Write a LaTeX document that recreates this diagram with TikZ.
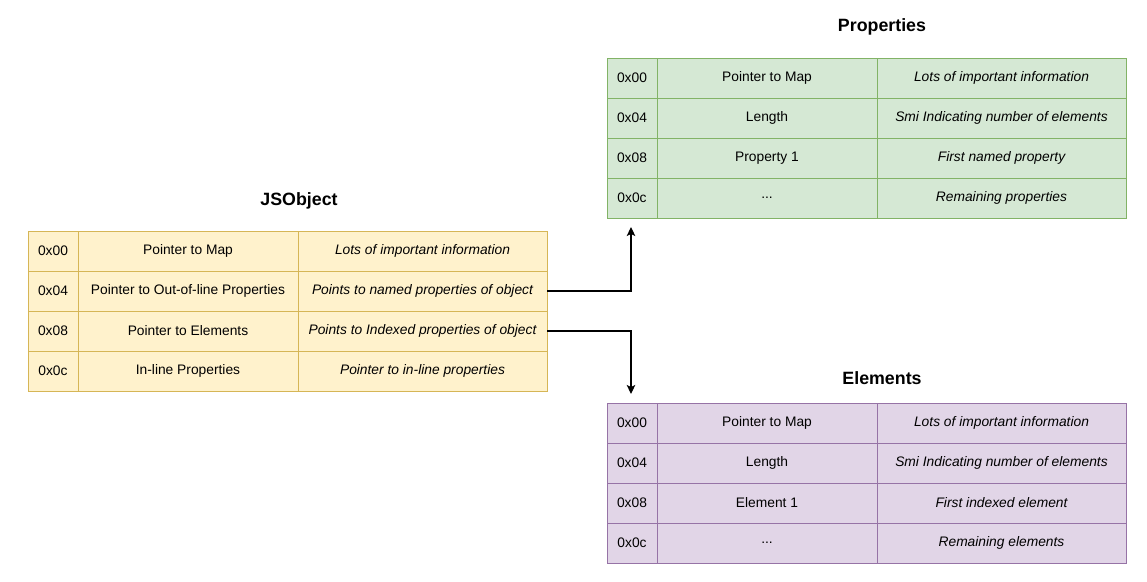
\documentclass[tikz,border=0pt]{standalone}
\usepackage{fontspec}
\setmainfont{Liberation Sans}
\usetikzlibrary{arrows.meta}
\definecolor{yfill}{HTML}{FFF2CC}
\definecolor{yline}{HTML}{D6B656}
\definecolor{gfill}{HTML}{D5E8D4}
\definecolor{gline}{HTML}{82B366}
\definecolor{pfill}{HTML}{E1D5E7}
\definecolor{pline}{HTML}{9673A6}
\newcommand\mythreedots{{.}{.}{.}}
\begin{document}
\begin{tikzpicture}[x=1pt,y=-1pt,
  cell/.style={line width=0.95pt, inner sep=0pt, minimum height=40pt,
    font=\fontsize{13.8}{16}\selectfont},
  ital/.style={font=\fontsize{13.8}{16}\selectfont\itshape},
  yel/.style={cell, draw=yline, fill=yfill},
  grn/.style={cell, draw=gline, fill=gfill},
  pur/.style={cell, draw=pline, fill=pfill},
  ttl/.style={font=\fontsize{17.8}{20}\selectfont\bfseries},
  arr/.style={line width=1.15pt, -{Stealth[length=9pt,width=8.5pt,inset=2pt]}}
]
\useasboundingbox (0,0) rectangle (1147,581);

% JSObject
\node[ttl] (tj) at (299,201) {JSObject};
\foreach \i/\a/\b/\c in {1/0x00/Pointer to Map/Lots of important information,
  2/0x04/Pointer to Out-of-line Properties/Points to named properties of object,
  3/0x08/Pointer to Elements/Points to Indexed properties of object,
  4/0x0c/In-line Properties/Pointer to in-line properties}{
  \pgfmathsetmacro\yy{231+40*(\i-1)+20}
  \node[yel, minimum width=50pt] (jo\i a) at (53,\yy) {\a};
  \node[yel, minimum width=220pt] (jo\i b) at (188,\yy) {\b};
  \node[yel, ital, minimum width=249pt] (jo\i c) at (422.5,\yy) {\c};
}

% Properties
\node[ttl] (tp) at (882,27) {Properties};
\foreach \i/\a/\b/\c in {1/0x00/Pointer to Map/Lots of important information,
  2/0x04/Length/Smi Indicating number of elements,
  3/0x08/Property 1/First named property,
  4/0x0c/\mythreedots/Remaining properties}{
  \pgfmathsetmacro\yy{58+40*(\i-1)+20}
  \node[grn, minimum width=50pt] (pr\i a) at (632,\yy) {\a};
  \node[grn, minimum width=220pt] (pr\i b) at (767,\yy) {\b};
  \node[grn, ital, minimum width=249pt] (pr\i c) at (1001.5,\yy) {\c};
}

% Elements
\node[ttl] (te) at (882,378) {Elements};
\foreach \i/\a/\b/\c in {1/0x00/Pointer to Map/Lots of important information,
  2/0x04/Length/Smi Indicating number of elements,
  3/0x08/Element 1/First indexed element,
  4/0x0c/\mythreedots/Remaining elements}{
  \pgfmathsetmacro\yy{403+40*(\i-1)+20}
  \node[pur, minimum width=50pt] (el\i a) at (632,\yy) {\a};
  \node[pur, minimum width=220pt] (el\i b) at (767,\yy) {\b};
  \node[pur, ital, minimum width=249pt] (el\i c) at (1001.5,\yy) {\c};
}

\coordinate (pa) at (631,227);
\coordinate (ea) at (631,394);
\draw[arr] (jo2c.east) -| (pa);
\draw[arr] (jo3c.east) -| (ea);
\end{tikzpicture}
\end{document}
